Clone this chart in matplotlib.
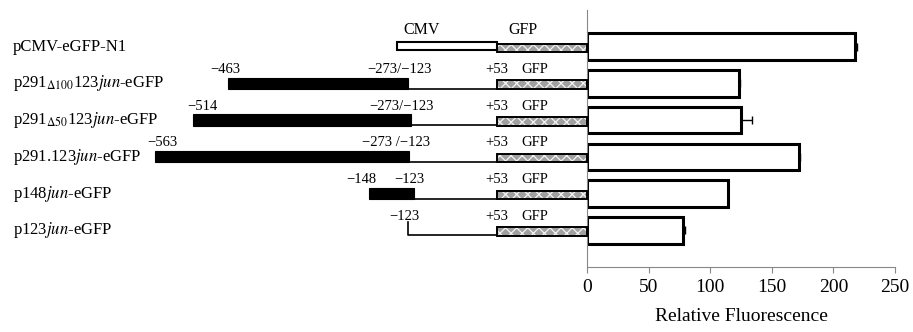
import matplotlib.pyplot as plt
from matplotlib.patches import Rectangle
import numpy as np

plt.rcParams['font.family'] = 'Liberation Serif'
plt.rcParams['mathtext.fontset'] = 'stix'
plt.rcParams['hatch.linewidth'] = 0.9

# reporter constructs and measured fluorescence
constructs = ['pCMV-eGFP-N1',
              r'p291$_{\Delta100}$123$\it{jun}$-eGFP',
              r'p291$_{\Delta50}$123$\it{jun}$-eGFP',
              r'p291.123$\it{jun}$-eGFP',
              r'p148$\it{jun}$-eGFP',
              r'p123$\it{jun}$-eGFP']
fluorescence = [217.5, 123.5, 125, 172, 114.5, 78]
errors = [1.5, 1, 9, 1, 0, 1.5]

# numbers written over each promoter fragment
upstream_labels = ['', '\u2212463', '\u2212514', '\u2212563', '\u2212148', '']
junction_labels = ['', '\u2212273/\u2212123', '\u2212273/\u2212123',
                   '\u2212273 /\u2212123', '\u2212123', '\u2212123']

# schematic layout of the maps (x in pixels of the left panel, not to scale)
black_start = [None, 228, 193, 155, 369, None]
black_end = [None, 408, 411, 409, 414, None]
upstream_x = [None, 225, 202, 162, 361, None]
junction_x = [None, 400, 402, 396, 409, 404]
gfp_start, gfp_end = 497, 587

fig = plt.figure(figsize=(9.13, 3.32), dpi=100)
ax = fig.add_axes([587 / 913, 65 / 332, 308 / 913, 257 / 332])
dx = fig.add_axes([0, 65 / 332, 587 / 913, 257 / 332], sharey=ax)

y = np.arange(len(constructs))
ax.barh(y, fluorescence, height=0.72, color='white', edgecolor='black',
        linewidth=2.2, zorder=2)
ax.errorbar(fluorescence, y, xerr=[np.zeros(len(errors)), errors], fmt='none',
            ecolor='black', elinewidth=1, capsize=3, zorder=3)

ax.set_xlim(0, 250)
ax.set_ylim(6, -1)
ax.set_xticks(np.arange(0, 251, 50))
ax.set_yticks([])
ax.tick_params(axis='x', direction='out', length=4, color='#888888',
               labelsize=14, pad=5)
for s in ['top', 'right']:
    ax.spines[s].set_visible(False)
ax.spines['left'].set_color('#888888')
ax.spines['bottom'].set_color('#888888')
ax.set_xlabel('Relative Fluorescence', fontsize=14, labelpad=8)

# construct maps
dx.set_xlim(0, 587)
dx.axis('off')

def gfp_box(i):
    # grey fill with light zigzag, then the black outline on top
    dx.add_patch(Rectangle((gfp_start, i - 0.08), gfp_end - gfp_start, 0.23,
                           facecolor='#a0a0a0', edgecolor='#f2f2f2', lw=0,
                           hatch='xxx', zorder=2, clip_on=False))
    dx.add_patch(Rectangle((gfp_start, i - 0.08), gfp_end - gfp_start, 0.23,
                           fill=False, edgecolor='black', lw=1.4, zorder=3,
                           clip_on=False))

for i, name in enumerate(constructs):
    dx.text(13, i, name, fontsize=12, ha='left', va='center')
    gfp_box(i)
    if i == 0:
        dx.add_patch(Rectangle((397, i - 0.14), gfp_start - 397, 0.23,
                               facecolor='white', edgecolor='black', lw=1.5,
                               zorder=2))
        dx.text(422, i - 0.45, 'CMV', fontsize=11.5, ha='center', va='center')
        dx.text(523, i - 0.45, 'GFP', fontsize=11.5, ha='center', va='center')
        continue
    line_y = i + 0.14
    if black_start[i] is not None:
        dx.add_patch(Rectangle((black_start[i], i - 0.16),
                               black_end[i] - black_start[i], 0.31,
                               facecolor='black', edgecolor='black', lw=0.8,
                               zorder=2))
        dx.plot([black_end[i], gfp_start], [line_y, line_y], color='black',
                lw=1.2, zorder=1)
        dx.text(upstream_x[i], i - 0.38, upstream_labels[i], fontsize=10.5,
                ha='center', va='center')
    else:
        dx.plot([408, 408, gfp_start], [i - 0.22, line_y, line_y],
                color='black', lw=1.2, zorder=1)
    dx.text(junction_x[i], i - 0.38, junction_labels[i], fontsize=10.5,
            ha='center', va='center')
    dx.text(497, i - 0.38, '+53', fontsize=10.5, ha='center', va='center')
    dx.text(535, i - 0.38, 'GFP', fontsize=10.5, ha='center', va='center')

fig.savefig('out.png', dpi=100)
